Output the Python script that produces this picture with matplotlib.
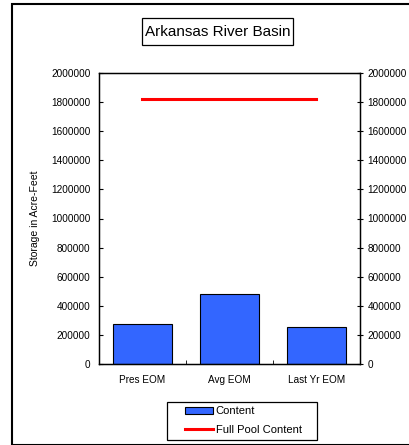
import matplotlib
matplotlib.use("Agg")
import matplotlib.pyplot as plt
from matplotlib.patches import Rectangle
import numpy as np

plt.rcParams['font.family'] = ['Liberation Sans', 'DejaVu Sans']

title = "Arkansas River Basin"
categories = ["Pres EOM", "Avg EOM", "Last Yr EOM"]
content = [273000, 479000, 256000]
full_pool = [1823000, 1823000, 1823000]
yticks = [0, 200000, 400000, 600000, 800000, 1000000, 1200000, 1400000,
          1600000, 1800000, 2000000]
ylabel = "Storage in Acre-Feet"

W, H = 410, 445
fig = plt.figure(figsize=(W / 100, H / 100), dpi=100)

# outer border
fig.patches.append(Rectangle((12 / W, 0), 1.0, 1 - 4 / H, transform=fig.transFigure,
                             fill=False, edgecolor='black', linewidth=1.5, zorder=0))

ax = fig.add_axes([99 / W, (H - 364) / H, (360 - 99) / W, (364 - 73) / H])
x = np.arange(len(categories))
bars = ax.bar(x, content, width=0.67, color='#3366FF', edgecolor='black', linewidth=0.8,
              label='Content', zorder=2)
line, = ax.plot(x, full_pool, color='#FF0000', linewidth=2.2, label='Full Pool Content',
                zorder=3)

ax.set_xlim(-0.5, len(categories) - 0.5)
ax.set_ylim(0, 2000000)
ax.set_yticks(yticks)
ax.set_yticklabels([str(v) for v in yticks], fontsize=7.2)
ax.set_xticks(x)
ax.set_xticklabels(categories, fontsize=7.2)
ax.tick_params(axis='x', length=0, pad=8)
ax.set_xticks(np.arange(0.5, len(categories) - 0.5, 1.0), minor=True)
ax.tick_params(axis='x', which='minor', direction='in', length=3)
ax.tick_params(axis='y', direction='in', length=3, pad=6)
ax.set_ylabel(ylabel, fontsize=7.5)
ax.yaxis.set_label_coords((40 - 99) / 261, 0.5)
for s in ax.spines.values():
    s.set_linewidth(1.0)

ax2 = ax.twinx()
ax2.set_ylim(0, 2000000)
ax2.set_yticks(yticks)
ax2.set_yticklabels([str(v) for v in yticks], fontsize=7.2)
ax2.tick_params(axis='y', direction='inout', length=5, pad=3)

# title box
fig.patches.append(Rectangle((142 / W, 1 - 45 / H), (293 - 142) / W, 27 / H,
                             transform=fig.transFigure, facecolor='white',
                             edgecolor='black', linewidth=0.9))
fig.text(217.5 / W, 1 - 32 / H, title, ha='center', va='center', fontsize=11)

# legend box
fig.patches.append(Rectangle((167 / W, 1 - 440 / H), (317 - 167) / W, 38 / H,
                             transform=fig.transFigure, facecolor='white',
                             edgecolor='black', linewidth=0.9))
leg = fig.legend([bars, line], ['Content', 'Full Pool Content'], loc='upper left',
                 bbox_to_anchor=(183 / W, 1 - 404 / H), fontsize=8,
                 frameon=False, handlelength=2.5, handleheight=0.6, handletextpad=0.25,
                 borderpad=0.2, labelspacing=0.8, borderaxespad=0)
fig.savefig("out.png", dpi=100)
